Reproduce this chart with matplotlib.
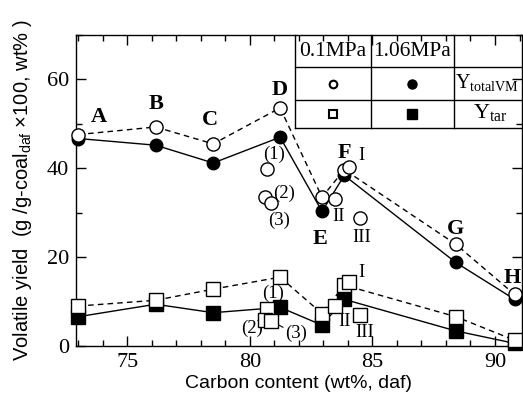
import numpy as np
import matplotlib.pyplot as plt
from matplotlib.ticker import MultipleLocator

plt.rcParams['mathtext.default'] = 'regular'

# main coals A-H
names = ['A', 'B', 'C', 'D', 'E', 'F', 'G', 'H']
carbon = [73.0, 76.15, 78.5, 81.23, 82.94, 83.85, 88.4, 90.8]
tvm_01 = [47.6, 49.3, 45.5, 53.6, 33.5, 39.7, 22.9, 11.6]
tvm_106 = [46.7, 45.2, 41.2, 47.0, 30.3, 38.4, 18.8, 10.5]
tar_01 = [9.0, 10.3, 12.8, 15.5, 7.3, 13.7, 6.6, 1.3]
tar_106 = [6.6, 9.4, 7.5, 8.7, 4.7, 10.5, 3.4, 0.6]

# extra samples measured at 0.1 MPa
extra_names = ['(1)', '(2)', '(3)', 'I', 'II', 'III']
extra_carbon = [80.7, 80.6, 80.85, 84.03, 83.46, 84.48]
extra_tvm = [39.8, 33.5, 32.2, 40.3, 33.0, 28.9]
extra_tar = [8.3, 5.8, 5.7, 14.4, 9.1, 7.0]

fig = plt.figure(figsize=(5.23, 4.03), dpi=100)
ax = fig.add_axes([0.1453, 0.1414, 0.8527, 0.7717])

serif = 'Liberation Serif'
sans = 'Liberation Sans'
dash = (4, 3)

ax.plot(carbon, tvm_106, '-', color='k', lw=1, marker='o', ms=9, mfc='k', mec='k',
        zorder=3, clip_on=False)
ax.plot(carbon, tvm_01, '--', dashes=dash, color='k', lw=1, marker='o', ms=9.5,
        mfc='white', mec='k', mew=1, zorder=4, clip_on=False)
ax.plot(carbon, tar_106, '-', color='k', lw=1, marker='s', ms=9.5, mfc='k', mec='k',
        zorder=3, clip_on=False)
ax.plot(carbon, tar_01, '--', dashes=dash, color='k', lw=1, marker='s', ms=10,
        mfc='white', mec='k', mew=1, zorder=4, clip_on=False)

ax.plot(extra_carbon, extra_tvm, 'o', ms=9.5, mfc='white', mec='k', mew=1, zorder=4)
ax.plot(extra_carbon, extra_tar, 's', ms=10, mfc='white', mec='k', mew=1, zorder=4)

# letter labels
letter_pos = [(73.85, 51.5), (76.15, 54.5), (78.36, 50.8), (81.23, 57.7),
              (82.84, 24.2), (83.87, 43.5), (88.4, 26.4), (90.7, 15.2)]
for n, (x, y) in zip(names, letter_pos):
    ax.text(x, y, n, ha='center', va='center', fontsize=16, fontweight='bold',
            family=serif)

# labels for extra samples
tvm_lab = [(80.97, 43.1), (81.4, 34.3), (81.2, 28.3), (84.55, 42.9), (83.6, 29.2), (84.55, 24.4)]
tar_lab = [(80.96, 11.8), (80.07, 4.0), (81.9, 2.85), (84.55, 16.5), (83.85, 5.5), (84.7, 3.0)]
for n, (x, y) in zip(extra_names, tvm_lab):
    ax.text(x, y, n, ha='center', va='center', fontsize=13.5, family=serif)
for n, (x, y) in zip(extra_names, tar_lab):
    ax.text(x, y, n, ha='center', va='center', fontsize=13.5, family=serif)
ax.annotate('', xy=(extra_carbon[2] + 0.2, extra_tar[2] - 0.6), xytext=(81.45, 3.9),
            arrowprops=dict(arrowstyle='-', color='k', lw=0.8))

ax.set_xlim(72.9, 91.1)
ax.set_ylim(0, 70)
ax.set_xticks([75, 80, 85, 90])
ax.set_yticks([0, 20, 40, 60])
ax.xaxis.set_minor_locator(MultipleLocator(1))
ax.yaxis.set_minor_locator(MultipleLocator(10))
ax.tick_params(which='both', direction='in', top=True, right=True, width=1)
ax.tick_params(which='major', length=7, labelsize=16, pad=5)
ax.tick_params(which='minor', length=4)
for lab in ax.get_xticklabels() + ax.get_yticklabels():
    lab.set_family(serif)
for s in ax.spines.values():
    s.set_linewidth(1)

ax.set_xlabel('Carbon content (wt%, daf)', fontsize=14, family=sans, labelpad=2)
ax.set_ylabel('Volatile yield  (g /g-coal$_{daf}$ ×100, wt% )', fontsize=14.5,
              family=sans, labelpad=9)

# legend table in the upper right corner
tx = [0.491, 0.661, 0.848, 1.0]
ty = [1.0, 0.896, 0.791, 0.701]
tr = ax.transAxes
for x in tx[:3]:
    ax.plot([x, x], [ty[3], ty[0]], color='k', lw=1, transform=tr, clip_on=False)
for y in ty[1:]:
    ax.plot([tx[0], tx[3]], [y, y], color='k', lw=1, transform=tr, clip_on=False)
cx = [(tx[0] + tx[1]) / 2, (tx[1] + tx[2]) / 2]
cy = [(ty[0] + ty[1]) / 2, (ty[1] + ty[2]) / 2, (ty[2] + ty[3]) / 2]
ax.text(cx[0], cy[0], '0.1MPa', transform=tr, ha='center', va='center', fontsize=15.5, family=serif)
ax.text(cx[1], cy[0], '1.06MPa', transform=tr, ha='center', va='center', fontsize=15.5, family=serif)
ax.plot(cx[0], cy[1], 'o', ms=5.5, mfc='white', mec='k', mew=1.5, transform=tr)
ax.plot(cx[1], cy[1], 'o', ms=6.5, mfc='k', mec='k', transform=tr)
ax.plot(cx[0], cy[2], 's', ms=5.5, mfc='white', mec='k', mew=1.5, transform=tr)
ax.plot(cx[1], cy[2], 's', ms=6.5, mfc='k', mec='k', transform=tr)
ax.text(tx[2] + 0.002, cy[1] + 0.005, 'Y$_{totalVM}$', transform=tr, ha='left', va='center',
        fontsize=14.5, family=serif)
ax.text(0.928, cy[2] + 0.005, 'Y$_{tar}$', transform=tr, ha='center', va='center',
        fontsize=16, family=serif)

fig.savefig('out.png', dpi=100)
